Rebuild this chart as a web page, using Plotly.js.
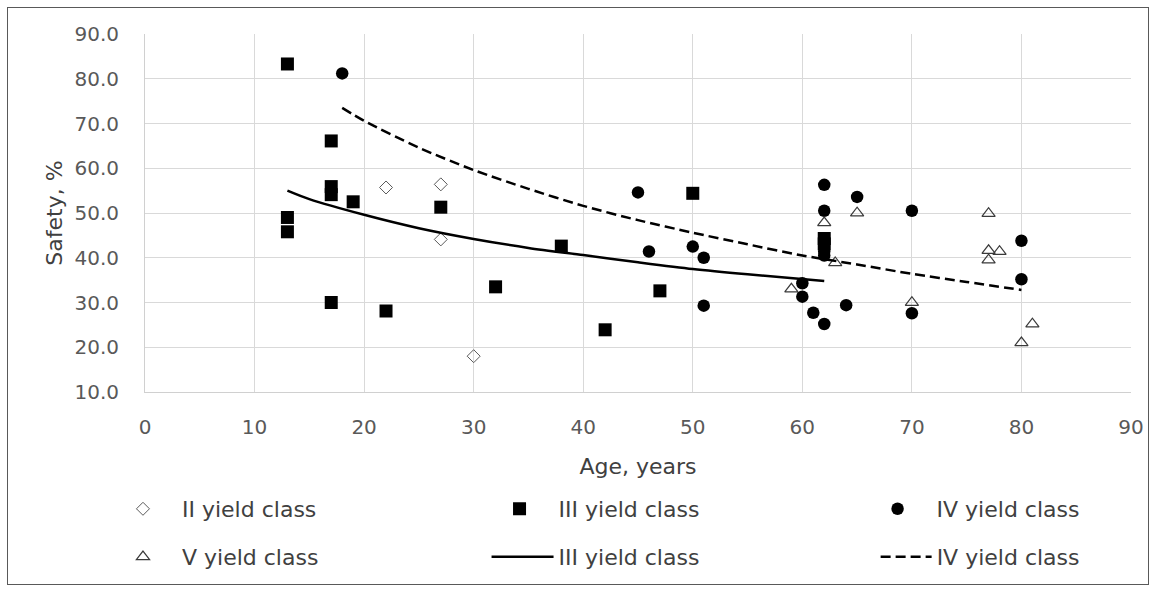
<!DOCTYPE html>
<html>
<head>
<meta charset="utf-8">
<script src="https://cdn.plot.ly/plotly-3.0.1.min.js"></script>
<style>
  html, body { margin: 0; padding: 0; background: #ffffff; }
  #wrap { position: relative; width: 1156px; height: 592px; }
  #chart { width: 1156px; height: 592px; }
  #frame {
    position: absolute; left: 7px; top: 7px; width: 1142px; height: 578px;
    box-sizing: border-box; border: 1px solid #595959; pointer-events: none;
  }
</style>
</head>
<body>
<div id="wrap">
  <div id="chart"></div>
  <div id="frame"></div>
</div>
<script>
// Stand safety (%) by stand age (years) for yield classes II–V
const ageII = [22, 27, 27, 30];
const safetyII = [55.7, 56.4, 44.1, 18.0];

const ageIII = [13, 13, 13, 17, 17, 17, 17, 19, 22, 27, 32, 38, 42, 47, 50, 62, 62];
const safetyIII = [83.3, 49.0, 45.8, 66.1, 55.9, 54.1, 30.0, 52.5, 28.1, 51.3, 33.5, 42.6, 23.9, 32.6, 54.4, 44.3, 43.1];

const ageIV = [18, 45, 46, 50, 51, 51, 60, 60, 61, 62, 62, 62, 62, 62, 64, 65, 70, 70, 80, 80];
const safetyIV = [81.2, 54.6, 41.4, 42.5, 40.0, 29.3, 34.3, 31.3, 27.7, 25.2, 56.3, 50.5, 41.4, 40.5, 29.4, 53.6, 50.5, 27.6, 43.8, 35.2];

const ageV = [59, 62, 63, 65, 70, 77, 77, 77, 78, 80, 81];
const safetyV = [33.0, 47.8, 38.9, 50.0, 30.0, 49.9, 41.6, 39.5, 41.4, 21.0, 25.2];

// Trend curves for classes III and IV
const trendAgeIII = [13, 15, 20, 25, 30, 35, 40, 45, 50, 55, 62];
const trendIII = [55.0, 53.1, 49.6, 46.6, 44.2, 42.2, 40.6, 39.0, 37.5, 36.3, 34.8];

const trendAgeIV = [18, 20, 25, 30, 35, 40, 45, 50, 55, 60, 65, 70, 75, 80];
const trendIV = [73.5, 70.6, 64.6, 59.6, 55.4, 51.6, 48.4, 45.6, 43.0, 40.5, 38.5, 36.4, 34.6, 32.8];

const seriesNames = ['II yield class', 'III yield class', 'IV yield class', 'V yield class'];
const xTitle = 'Age, years';
const yTitle = 'Safety, %';

const traces = [
  {
    x: ageII, y: safetyII, name: seriesNames[0], type: 'scatter', mode: 'markers',
    legend: 'legend',
    marker: { symbol: 'diamond-open', size: 10, color: '#5a5a5a', line: { width: 1, color: '#5a5a5a' } }
  },
  {
    x: ageIII, y: safetyIII, name: seriesNames[1], type: 'scatter', mode: 'markers',
    legend: 'legend2',
    marker: { symbol: 'square', size: 13, color: '#000000' }
  },
  {
    x: ageIV, y: safetyIV, name: seriesNames[2], type: 'scatter', mode: 'markers',
    legend: 'legend3',
    marker: { symbol: 'circle', size: 12.5, color: '#000000' }
  },
  {
    x: ageV, y: safetyV, name: seriesNames[3], type: 'scatter', mode: 'markers',
    legend: 'legend4',
    marker: { symbol: 'triangle-up-open', size: 11.5, color: '#3a3a3a', line: { width: 1.2, color: '#3a3a3a' } }
  },
  {
    x: trendAgeIII, y: trendIII, name: seriesNames[1], type: 'scatter', mode: 'lines',
    legend: 'legend5',
    line: { color: '#000000', width: 2.5, shape: 'spline', smoothing: 0.8 }
  },
  {
    x: trendAgeIV, y: trendIV, name: seriesNames[2], type: 'scatter', mode: 'lines',
    legend: 'legend6',
    line: { color: '#000000', width: 2.5, dash: '10px,5px', shape: 'spline', smoothing: 0.8 }
  }
];

const legendFont = { family: 'DejaVu Sans', size: 22, color: '#404040' };
function legendAt(x, y, w) {
  return {
    x: x, y: y, xanchor: 'left', yanchor: 'middle', orientation: 'v',
    bgcolor: 'rgba(0,0,0,0)', borderwidth: 0, font: legendFont, itemwidth: w
  };
}

const layout = {
  width: 1156, height: 592,
  margin: { l: 145, r: 25, t: 34, b: 200 },
  paper_bgcolor: '#ffffff', plot_bgcolor: '#ffffff',
  font: { family: 'DejaVu Sans', color: '#404040' },
  showlegend: true,
  xaxis: {
    range: [0, 90], tick0: 0, dtick: 10, fixedrange: true,
    showgrid: true, gridcolor: '#d9d9d9', gridwidth: 1,
    showline: true, linecolor: '#d0d0d0', linewidth: 1, zeroline: false,
    ticks: '', ticklabelstandoff: 17,
    tickfont: { family: 'DejaVu Sans', size: 20, color: '#595959' },
    title: { text: xTitle, font: { family: 'DejaVu Sans', size: 22, color: '#404040' }, standoff: 20 }
  },
  yaxis: {
    range: [10, 90], tick0: 10, dtick: 10, tickformat: '.1f', fixedrange: true,
    showgrid: true, gridcolor: '#d9d9d9', gridwidth: 1,
    showline: true, linecolor: '#d0d0d0', linewidth: 1, zeroline: false,
    ticks: '', ticklabelstandoff: 21,
    tickfont: { family: 'DejaVu Sans', size: 20, color: '#595959' },
    title: { text: yTitle, font: { family: 'DejaVu Sans', size: 22, color: '#404040' }, standoff: 5 }
  },
  legend:  legendAt(-0.0416, -0.3268, 68),
  legend2: legendAt(0.3403, -0.3268, 68),
  legend3: legendAt(0.7237, -0.3268, 68),
  legend4: legendAt(-0.0416, -0.4609, 68),
  legend5: legendAt(0.3464, -0.4609, 62),
  legend6: legendAt(0.7410, -0.4609, 51)
};

Plotly.newPlot('chart', traces, layout, { displayModeBar: false, staticPlot: true });
</script>
</body>
</html>
